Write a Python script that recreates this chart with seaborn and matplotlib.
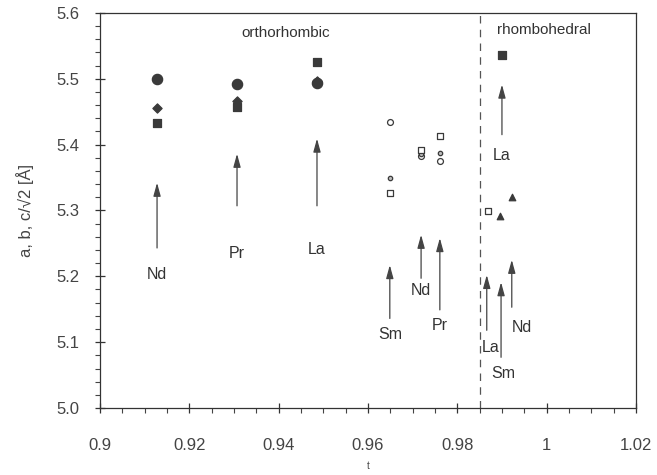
import matplotlib
matplotlib.use("Agg")
import matplotlib.pyplot as plt
from matplotlib.ticker import MultipleLocator, FuncFormatter
import seaborn as sns
import pandas as pd

sns.set_style("ticks")
plt.rcParams['font.family'] = ['Liberation Sans', 'DejaVu Sans']

# tolerance factor t and lattice parameters
filled_circle_t = [0.9128, 0.9307, 0.9486]
filled_circle_v = [5.499, 5.492, 5.494]
filled_diamond_t = [0.9128, 0.9307, 0.9486]
filled_diamond_v = [5.456, 5.466, 5.497]
filled_square_t = [0.9128, 0.9307, 0.9486, 0.9900]
filled_square_v = [5.433, 5.457, 5.526, 5.536]
open_circle_t = [0.9649, 0.9719, 0.9761]
open_circle_v = [5.434, 5.382, 5.375]
dot_circle_t = [0.9649, 0.9719, 0.9761]
dot_circle_v = [5.349, 5.386, 5.387]
open_square_t = [0.9649, 0.9719, 0.9761, 0.9869]
open_square_v = [5.326, 5.391, 5.413, 5.299]
triangle_t = [0.9895, 0.9922]
triangle_v = [5.291, 5.320]

# arrows: x, tail, tip, label and label position
arrow_names = ["Nd", "Pr", "La", "Sm", "Nd", "Pr", "La", "La", "Sm", "Nd"]
arrow_x = [0.9128, 0.9307, 0.9486, 0.9649, 0.9719, 0.9761, 0.9900, 0.9866, 0.9898, 0.9922]
arrow_tail = [5.243, 5.307, 5.307, 5.136, 5.197, 5.149, 5.415, 5.118, 5.077, 5.153]
arrow_tip = [5.342, 5.386, 5.409, 5.217, 5.263, 5.258, 5.491, 5.202, 5.191, 5.225]
label_x = [0.9128, 0.9307, 0.9486, 0.9649, 0.9719, 0.9761, 0.9900, 0.9875, 0.9902, 0.9945]
label_y = [5.202, 5.235, 5.240, 5.111, 5.179, 5.126, 5.384, 5.092, 5.053, 5.123]

phase_boundary = 0.985

fig = plt.figure(figsize=(6.57, 4.75), dpi=100)
ax = fig.add_axes([0.152, 0.141, 0.816, 0.832])
ink = "#3a3a3a"

groups = [
    (filled_circle_t, filled_circle_v, "o", 55, ink, ink),
    (filled_diamond_t, filled_diamond_v, "D", 22, ink, ink),
    (filled_square_t, filled_square_v, "s", 40, ink, ink),
    (open_circle_t, open_circle_v, "o", 18, "white", ink),
    (dot_circle_t, dot_circle_v, "o", 10, "#bbbbbb", ink),
    (open_square_t, open_square_v, "s", 20, "white", ink),
    (triangle_t, triangle_v, "^", 22, ink, ink),
]
for t, v, m, s, fc, ec in groups:
    df = pd.DataFrame({"t": t, "v": v})
    sns.scatterplot(data=df, x="t", y="v", marker=m, s=s, color=fc,
                    edgecolor=ec, linewidth=0.9, ax=ax, zorder=3)

for x, y0, y1 in zip(arrow_x, arrow_tail, arrow_tip):
    ax.annotate("", xy=(x, y1), xytext=(x, y0),
                arrowprops=dict(arrowstyle="-|>,head_length=0.8,head_width=0.22",
                                color="#444444", lw=0.9, shrinkA=0, shrinkB=0))
for name, x, y in zip(arrow_names, label_x, label_y):
    ax.text(x, y, name, ha="center", va="center", fontsize=11.5, color="#333333")

ax.axvline(phase_boundary, color="#555555", lw=0.9, ls=(0, (6, 5)))
ax.text(0.9416, 5.569, "orthorhombic", ha="center", va="center", fontsize=11, color="#333333")
ax.text(0.9889, 5.574, "rhombohedral", ha="left", va="center", fontsize=11, color="#333333")

ax.set_xlim(0.9, 1.02)
ax.set_ylim(5.0, 5.6)
ax.xaxis.set_major_locator(MultipleLocator(0.02))
ax.xaxis.set_minor_locator(MultipleLocator(0.005))
ax.yaxis.set_major_locator(MultipleLocator(0.1))
ax.yaxis.set_minor_locator(MultipleLocator(0.02))
ax.xaxis.set_major_formatter(FuncFormatter(lambda v, p: f"{v:g}"))
ax.yaxis.set_major_formatter(FuncFormatter(lambda v, p: f"{v:.1f}"))
ax.tick_params(which="major", direction="inout", length=7, width=0.9, colors="#333333",
               labelsize=12, labelcolor="#444444")
ax.tick_params(which="minor", direction="out", length=3.5, width=0.8, colors="#444444")
ax.tick_params(axis="x", which="major", pad=18)
ax.tick_params(axis="y", which="major", pad=11)
for sp in ax.spines.values():
    sp.set_visible(True)
    sp.set_color("#333333")
    sp.set_linewidth(0.9)

ax.set_xlabel("t", fontsize=7, color="#444444", labelpad=6)
ax.set_ylabel("a, b, c/\u221a2 [\u00c5]", fontsize=12, color="#444444", labelpad=16)

fig.savefig("out.png", dpi=100)
